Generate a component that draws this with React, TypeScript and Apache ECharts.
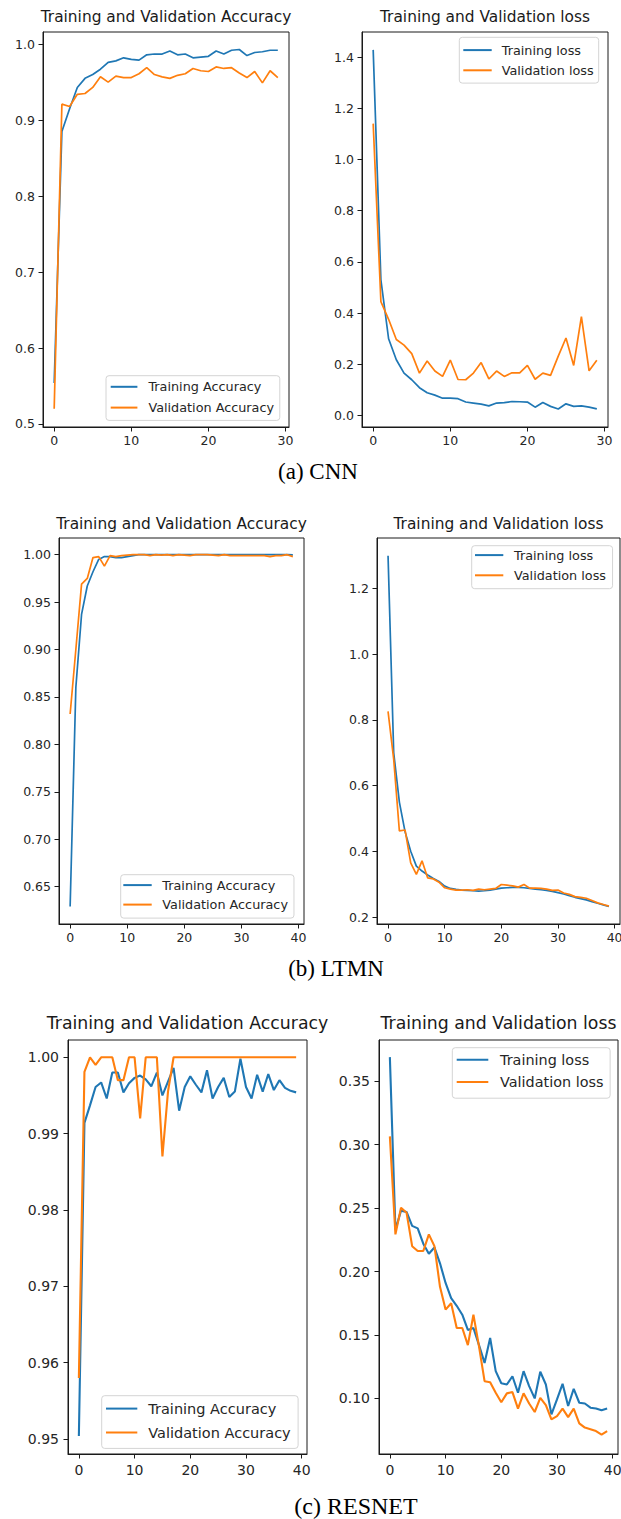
import React, { useEffect, useRef } from "react";
import * as echarts from "echarts";

// ---------- data ----------
const cnnTrainAcc = [0.554, 0.885, 0.915, 0.943, 0.955, 0.96, 0.967, 0.976, 0.978, 0.982, 0.98, 0.979, 0.986, 0.987, 0.987, 0.991, 0.986, 0.987, 0.982, 0.983, 0.984, 0.991, 0.987, 0.992, 0.993, 0.985, 0.989, 0.99, 0.992, 0.992];
const cnnValAcc = [0.52, 0.921, 0.918, 0.934, 0.935, 0.943, 0.957, 0.95, 0.958, 0.956, 0.956, 0.961, 0.969, 0.96, 0.957, 0.955, 0.959, 0.961, 0.968, 0.965, 0.964, 0.97, 0.968, 0.969, 0.962, 0.956, 0.964, 0.949, 0.965, 0.956];
const cnnTrainLoss = [1.428, 0.53, 0.3, 0.218, 0.166, 0.14, 0.109, 0.089, 0.08, 0.068, 0.068, 0.066, 0.053, 0.049, 0.045, 0.038, 0.049, 0.051, 0.055, 0.054, 0.053, 0.033, 0.051, 0.036, 0.026, 0.046, 0.036, 0.038, 0.033, 0.026];
const cnnValLoss = [1.14, 0.445, 0.376, 0.297, 0.275, 0.242, 0.166, 0.213, 0.174, 0.153, 0.217, 0.141, 0.14, 0.166, 0.207, 0.143, 0.174, 0.153, 0.167, 0.167, 0.196, 0.142, 0.166, 0.157, 0.232, 0.303, 0.196, 0.386, 0.175, 0.216];

const ltmnTrainAcc = [0.629, 0.86, 0.937, 0.967, 0.982, 0.995, 0.998, 0.998, 0.997, 0.997, 0.998, 0.999, 1.0, 1.0, 1.0, 1.0, 1.0, 1.0, 1.0, 1.0, 1.0, 1.0, 1.0, 1.0, 1.0, 1.0, 1.0, 1.0, 1.0, 1.0, 1.0, 1.0, 1.0, 1.0, 1.0, 1.0, 1.0, 1.0, 1.0, 0.9998];
const ltmnValAcc = [0.832, 0.9, 0.969, 0.975, 0.997, 0.998, 0.988, 0.999, 0.998, 0.999, 0.9995, 1.0, 1.0, 1.0, 0.999, 1.0, 0.9995, 1.0, 0.999, 1.0, 0.9995, 0.999, 1.0, 1.0, 1.0, 0.9995, 0.999, 1.0, 0.999, 0.999, 0.999, 0.999, 0.999, 0.999, 0.999, 0.998, 0.999, 0.999, 1.0, 0.998];
const ltmnTrainLoss = [1.3, 0.7, 0.55, 0.46, 0.4, 0.355, 0.34, 0.328, 0.317, 0.308, 0.294, 0.287, 0.284, 0.282, 0.281, 0.28, 0.279, 0.28, 0.282, 0.285, 0.288, 0.289, 0.29, 0.29, 0.289, 0.287, 0.285, 0.283, 0.281, 0.278, 0.274, 0.27, 0.265, 0.26, 0.256, 0.252, 0.247, 0.242, 0.237, 0.232];
const ltmnValLoss = [0.826, 0.68, 0.462, 0.465, 0.365, 0.33, 0.371, 0.319, 0.316, 0.306, 0.289, 0.285, 0.282, 0.282, 0.283, 0.281, 0.285, 0.283, 0.285, 0.287, 0.299, 0.297, 0.295, 0.291, 0.299, 0.288, 0.288, 0.287, 0.285, 0.281, 0.282, 0.273, 0.269, 0.262, 0.26, 0.257, 0.25, 0.243, 0.238, 0.233];

const resTrainAcc = [0.9504, 0.9914, 0.9937, 0.9961, 0.9967, 0.9946, 0.998, 0.998, 0.9954, 0.9966, 0.9973, 0.9976, 0.9971, 0.9962, 0.998, 0.995, 0.9968, 0.9986, 0.993, 0.9961, 0.9975, 0.9964, 0.9954, 0.9983, 0.9946, 0.9961, 0.9973, 0.9948, 0.9955, 0.9998, 0.9961, 0.9946, 0.9977, 0.9955, 0.9978, 0.9957, 0.997, 0.996, 0.9956, 0.9954];
const resValAcc = [0.958, 0.9981, 1.0, 0.999, 1.0, 1.0, 1.0, 0.997, 0.997, 1.0, 1.0, 0.992, 1.0, 1.0, 1.0, 0.987, 0.9955, 1.0, 1.0, 1.0, 1.0, 1.0, 1.0, 1.0, 1.0, 1.0, 1.0, 1.0, 1.0, 1.0, 1.0, 1.0, 1.0, 1.0, 1.0, 1.0, 1.0, 1.0, 1.0, 1.0];
const resTrainLoss = [0.369, 0.233, 0.248, 0.247, 0.236, 0.234, 0.222, 0.214, 0.219, 0.2065, 0.191, 0.179, 0.173, 0.166, 0.154, 0.1555, 0.142, 0.128, 0.1476, 0.1215, 0.112, 0.111, 0.1175, 0.1045, 0.1215, 0.1097, 0.1, 0.121, 0.111, 0.0874, 0.0992, 0.1115, 0.094, 0.1076, 0.0966, 0.096, 0.0927, 0.092, 0.0906, 0.092];
const resValLoss = [0.3065, 0.2293, 0.2503, 0.2463, 0.22, 0.2162, 0.2162, 0.2293, 0.22, 0.188, 0.17, 0.175, 0.1555, 0.1555, 0.142, 0.166, 0.141, 0.1136, 0.1128, 0.1045, 0.097, 0.104, 0.105, 0.0919, 0.104, 0.096, 0.0893, 0.1005, 0.0948, 0.0835, 0.0861, 0.0919, 0.0853, 0.0919, 0.0804, 0.077, 0.0757, 0.0743, 0.0715, 0.0743];

// ---------- tick labels ----------
const xTicks30 = [0, 10, 20, 30];
const xTicks40 = [0, 10, 20, 30, 40];
const yTicksCnnAcc = [0.5, 0.6, 0.7, 0.8, 0.9, 1.0];
const yTicksCnnLoss = [0.0, 0.2, 0.4, 0.6, 0.8, 1.0, 1.2, 1.4];
const yTicksLtmnAcc = [0.65, 0.7, 0.75, 0.8, 0.85, 0.9, 0.95, 1.0];
const yTicksLtmnLoss = [0.2, 0.4, 0.6, 0.8, 1.0, 1.2];
const yTicksResAcc = [0.95, 0.96, 0.97, 0.98, 0.99, 1.0];
const yTicksResLoss = [0.1, 0.15, 0.2, 0.25, 0.3, 0.35];

const accNames = ["Training Accuracy", "Validation Accuracy"];
const lossNames = ["Training loss", "Validation loss"];
const accTitle = "Training and Validation Accuracy";
const lossTitle = "Training and Validation loss";
const captions = ["(a) CNN", "(b) LTMN", "(c) RESNET"];

// ---------- styles / layout ----------
const BLUE = "#1f77b4";
const ORANGE = "#ff7f0e";
const INK = "#1a1a1a";
const SANS = "DejaVu Sans";
const SERIF = "Liberation Serif";

type Leg = { left: number; top: number; fs: number; handle: number; padL: number; gap: number; spacing: number; padT: number; padB: number; padR: number };
type Panel = {
  grid: { left: number; top: number; width: number; height: number };
  x: [number, number]; xTicks: number[];
  y: [number, number]; yTicks: number[]; dec: number;
  fs: number; xMargin: number; yMargin: number; lw: number;
  names: string[]; values: number[][];
  legend: Leg;
  title: { text: string; x: number; y: number; fs: number };
};

const panels: Panel[] = [
  {
    grid: { left: 43, top: 32, width: 246, height: 395 },
    x: [-1.45, 30.45], xTicks: xTicks30, y: [0.496, 1.016], yTicks: yTicksCnnAcc, dec: 1,
    fs: 12.5, xMargin: 7, yMargin: 8, lw: 1.7,
    names: accNames, values: [cnnTrainAcc, cnnValAcc],
    legend: { left: 106, top: 375.7, fs: 12.8, handle: 26.7, padL: 4.7, gap: 11, spacing: 20.6, padT: 4.6, padB: 6.3, padR: 5.7 },
    title: { text: accTitle, x: 166, y: 17, fs: 15.4 },
  },
  {
    grid: { left: 362, top: 32, width: 246, height: 395 },
    x: [-1.45, 30.45], xTicks: xTicks30, y: [-0.0445, 1.4977], yTicks: yTicksCnnLoss, dec: 1,
    fs: 12.5, xMargin: 7, yMargin: 8, lw: 1.7,
    names: lossNames, values: [cnnTrainLoss, cnnValLoss],
    legend: { left: 459.3, top: 37.3, fs: 12.8, handle: 28.4, padL: 4, gap: 10, spacing: 20, padT: 6.3, padB: 6.3, padR: 5 },
    title: { text: lossTitle, x: 485, y: 17, fs: 15.4 },
  },
  {
    grid: { left: 59, top: 538, width: 245, height: 386 },
    x: [-1.95, 40.95], xTicks: xTicks40, y: [0.6106, 1.0176], yTicks: yTicksLtmnAcc, dec: 2,
    fs: 12.5, xMargin: 7, yMargin: 8, lw: 1.7,
    names: accNames, values: [ltmnTrainAcc, ltmnValAcc],
    legend: { left: 120.7, top: 874.7, fs: 12.8, handle: 28.4, padL: 2.6, gap: 10.6, spacing: 19.3, padT: 3.9, padB: 7, padR: 6 },
    title: { text: accTitle, x: 181.5, y: 524, fs: 15.4 },
  },
  {
    grid: { left: 377, top: 538, width: 243, height: 386 },
    x: [-1.95, 40.95], xTicks: xTicks40, y: [0.1787, 1.354], yTicks: yTicksLtmnLoss, dec: 1,
    fs: 12.5, xMargin: 7, yMargin: 8, lw: 1.7,
    names: lossNames, values: [ltmnTrainLoss, ltmnValLoss],
    legend: { left: 471.7, top: 545.7, fs: 12.8, handle: 28.3, padL: 3.3, gap: 10.7, spacing: 20, padT: 2.9, padB: 6.9, padR: 6.6 },
    title: { text: lossTitle, x: 498.5, y: 524, fs: 15.4 },
  },
  {
    grid: { left: 68, top: 1040, width: 239, height: 414 },
    x: [-1.95, 40.95], xTicks: xTicks40, y: [0.94804, 1.00226], yTicks: yTicksResAcc, dec: 2,
    fs: 14, xMargin: 9, yMargin: 9, lw: 2.1,
    names: accNames, values: [resTrainAcc, resValAcc],
    legend: { left: 101.7, top: 1395.7, fs: 14.5, handle: 31.3, padL: 4.3, gap: 11, spacing: 23.4, padT: 5.4, padB: 8.4, padR: 7.4 },
    title: { text: accTitle, x: 187.5, y: 1023, fs: 17.3 },
  },
  {
    grid: { left: 379, top: 1040, width: 239, height: 414 },
    x: [-1.95, 40.95], xTicks: xTicks40, y: [0.0562, 0.3825], yTicks: yTicksResLoss, dec: 2,
    fs: 14, xMargin: 9, yMargin: 9, lw: 2.1,
    names: lossNames, values: [resTrainLoss, resValLoss],
    legend: { left: 452.3, top: 1047.7, fs: 14.4, handle: 31.6, padL: 4.4, gap: 11.7, spacing: 22.7, padT: 5.1, padB: 9.1, padR: 6.7 },
    title: { text: lossTitle, x: 498.5, y: 1023, fs: 17.3 },
  },
];

const captionPos = [
  { x: 318, y: 471, fs: 23 },
  { x: 336, y: 968, fs: 23 },
  { x: 356, y: 1506, fs: 24 },
];

function buildOption() {
  const colors = [BLUE, ORANGE];
  const grid = panels.map((p) => ({
    ...p.grid,
    show: true,
    borderColor: INK,
    borderWidth: 1,
    backgroundColor: "transparent",
    containLabel: false,
    outerBoundsMode: "none",
  }));
  const xAxis = panels.map((p, i) => ({
    type: "value",
    gridIndex: i,
    min: p.x[0],
    max: p.x[1],
    axisLine: { show: true, onZero: false, lineStyle: { color: INK, width: 1 } },
    axisTick: { show: true, length: 4.5, lineStyle: { color: INK, width: 1 }, customValues: p.xTicks },
    axisLabel: {
      customValues: p.xTicks,
      fontSize: p.fs,
      fontFamily: SANS,
      color: "#262626",
      margin: p.xMargin,
      formatter: (v: number) => String(Math.round(v)),
    },
    splitLine: { show: false },
  }));
  const yAxis = panels.map((p, i) => ({
    type: "value",
    gridIndex: i,
    min: p.y[0],
    max: p.y[1],
    axisLine: { show: true, onZero: false, lineStyle: { color: INK, width: 1 } },
    axisTick: { show: true, length: 4.5, lineStyle: { color: INK, width: 1 }, customValues: p.yTicks },
    axisLabel: {
      customValues: p.yTicks,
      fontSize: p.fs,
      fontFamily: SANS,
      color: "#262626",
      margin: p.yMargin,
      formatter: (v: number) => v.toFixed(p.dec),
    },
    splitLine: { show: false },
  }));
  const series: any[] = [];
  panels.forEach((p, i) => {
    p.values.forEach((vals, k) => {
      series.push({
        type: "line",
        name: p.names[k],
        xAxisIndex: i,
        yAxisIndex: i,
        data: vals.map((v, e) => [e, v]),
        showSymbol: false,
        symbol: "none",
        lineStyle: { color: colors[k], width: p.lw },
        itemStyle: { color: colors[k] },
        emphasis: { disabled: true },
        silent: true,
        z: 2 + k,
      });
    });
  });
  const legend = panels.map((p) => {
    const L = p.legend;
    return {
      data: p.names,
      orient: "vertical",
      left: L.left,
      top: L.top,
      padding: [L.padT, L.padR, L.padB, L.padL],
      itemWidth: L.handle,
      itemHeight: 2,
      itemGap: L.spacing - L.fs,
      icon: "rect",
      selectedMode: false,
      backgroundColor: "rgba(255,255,255,0.85)",
      borderColor: "#d4d4d4",
      borderWidth: 1,
      borderRadius: 3,
      textStyle: {
        fontSize: L.fs,
        fontFamily: SANS,
        color: "#262626",
        padding: [0, 0, 0, L.gap - 5],
      },
    };
  });
  const graphic: any[] = [];
  panels.forEach((p) => {
    graphic.push({
      type: "text",
      x: p.title.x,
      y: p.title.y,
      silent: true,
      style: {
        text: p.title.text,
        fill: INK,
        font: `${p.title.fs}px "${SANS}"`,
        textAlign: "center",
        textVerticalAlign: "middle",
      },
    });
  });
  captions.forEach((c, i) => {
    const cp = captionPos[i];
    graphic.push({
      type: "text",
      x: cp.x,
      y: cp.y,
      silent: true,
      style: {
        text: c,
        fill: "#000",
        font: `${cp.fs}px "${SERIF}"`,
        textAlign: "center",
        textVerticalAlign: "middle",
      },
    });
  });
  return {
    animation: false,
    backgroundColor: "#ffffff",
    grid,
    xAxis,
    yAxis,
    series,
    legend,
    graphic,
  };
}

export default function App() {
  const ref = useRef<HTMLDivElement>(null);
  useEffect(() => {
    if (!ref.current) return;
    const chart = echarts.init(ref.current, undefined, { renderer: "svg" });
    chart.setOption(buildOption() as any);
    return () => chart.dispose();
  }, []);
  return (
    <div
      ref={ref}
      style={{ position: "absolute", left: 0, top: 0, width: 621, height: 1519, background: "#fff" }}
    />
  );
}
